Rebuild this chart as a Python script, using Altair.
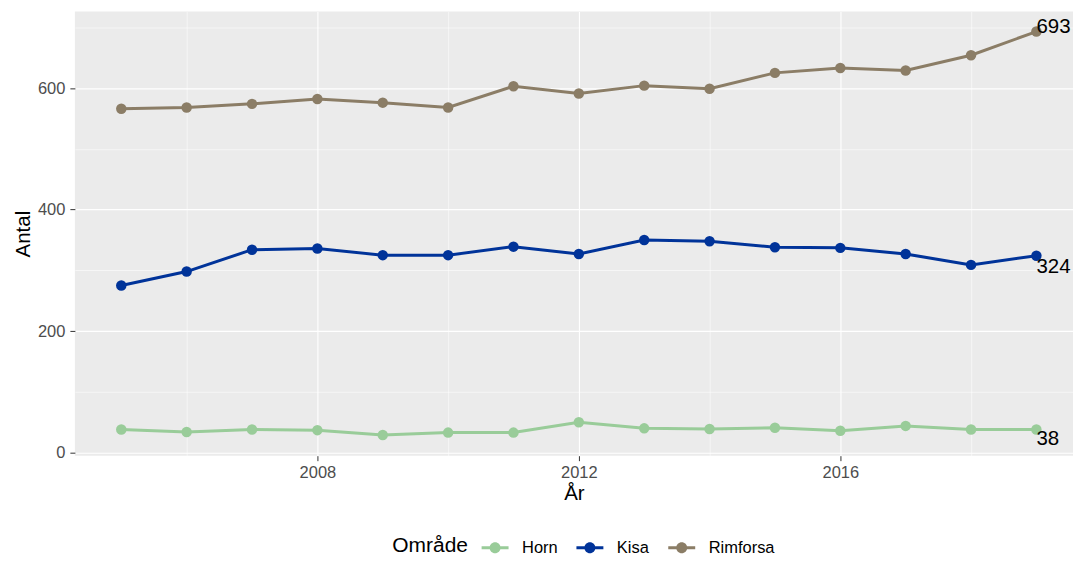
import altair as alt
import pandas as pd

years = list(range(2005, 2020))
areas = ["Horn", "Kisa", "Rimforsa"]
colors = ["#99CC99", "#003399", "#8B7D66"]
horn = [38, 34, 38, 37, 29, 33, 33, 50, 40, 39, 41, 36, 44, 38, 38]
kisa = [275, 298, 334, 336, 325, 325, 339, 327, 350, 348, 338, 337, 327, 309, 324]
rimforsa = [566, 568, 574, 582, 576, 568, 603, 591, 604, 599, 625, 633, 629, 654, 693]

x_ticks = [2006, 2008, 2010, 2012, 2014, 2016, 2018]
y_ticks = [0, 100, 200, 300, 400, 500, 600, 700]

rows = []
for name, vals in zip(areas, [horn, kisa, rimforsa]):
    for yr, v in zip(years, vals):
        rows.append({"År": yr, "Antal": v, "Område": name})
df = pd.DataFrame(rows)
last = df[df["År"] == years[-1]]

FONT = "Liberation Sans"

x_axis = alt.Axis(
    values=x_ticks,
    format="d",
    labelExpr="datum.value % 4 === 0 ? datum.label : ''",
    gridWidth={"condition": {"test": "datum.value % 4 === 0", "value": 1.1}, "value": 0.55},
    tickOpacity={"condition": {"test": "datum.value % 4 === 0", "value": 1}, "value": 0},
    titlePadding=2,
    labelPadding=4,
)
y_axis = alt.Axis(
    values=y_ticks,
    labelExpr="datum.value % 200 === 0 ? datum.label : ''",
    gridWidth={"condition": {"test": "datum.value % 200 === 0", "value": 1.1}, "value": 0.55},
    tickOpacity={"condition": {"test": "datum.value % 200 === 0", "value": 1}, "value": 0},
    titlePadding=4,
    labelPadding=5,
)

x = alt.X("År:Q", scale=alt.Scale(domain=[2004.29, 2019.56], nice=False, zero=False), axis=x_axis)
y = alt.Y("Antal:Q", scale=alt.Scale(domain=[-5, 726], nice=False, zero=False), axis=y_axis)
color = alt.Color(
    "Område:N",
    scale=alt.Scale(domain=areas, range=colors),
    legend=alt.Legend(
        orient="none",
        direction="horizontal",
        titleOrient="left",
        legendX=318,
        legendY=527,
        symbolType="M-1.35,-0.15H1.35V0.15H-1.35Z M0,-0.55A0.55,0.55,0,1,1,0,0.55A0.55,0.55,0,1,1,0,-0.55Z",
        symbolSize=400,
        symbolStrokeWidth=0,
        symbolOpacity=1,
        columnPadding=18,
        labelOffset=17,
        titlePadding=17,
    ),
)

base = alt.Chart(df).encode(x=x, y=y, color=color)
lines = base.mark_line(strokeWidth=3)
points = base.mark_circle(size=110, opacity=1)

label_dy = {"Rimforsa": 1, "Kisa": 17, "Horn": 15}
label_layers = []
for name in areas:
    label_layers.append(
        alt.Chart(last[last["Område"] == name]).mark_text(
            align="left", baseline="alphabetic", dx=0, dy=label_dy[name],
            fontSize=20.5, color="black", font=FONT
        ).encode(x="År:Q", y="Antal:Q", text="Antal:Q")
    )

chart = (
    alt.layer(lines, points, *label_layers)
    .properties(
        width=1000,
        height=445,
        autosize=alt.AutoSizeParams(type="none"),
        padding={"left": 67, "top": 3, "right": 0, "bottom": 100},
    )
    .configure(font=FONT)
    .configure_view(fill="#EBEBEB", stroke=None)
    .configure_axis(
        domain=False,
        gridColor="#FFFFFF",
        tickColor="#333333",
        tickSize=5,
        tickWidth=1,
        labelColor="#4D4D4D",
        labelFontSize=16.5,
        labelFont=FONT,
        titleFont=FONT,
        titleFontSize=20.5,
        titleFontWeight="normal",
        titleColor="#000000",
    )
    .configure_legend(
        titleFontSize=21,
        titleFontWeight="normal",
        titleColor="#000000",
        labelFontSize=16.5,
        labelColor="#000000",
        titleFont=FONT,
        labelFont=FONT,
    )
)

chart.save("out.html", embed_options={"renderer": "svg", "actions": False})
